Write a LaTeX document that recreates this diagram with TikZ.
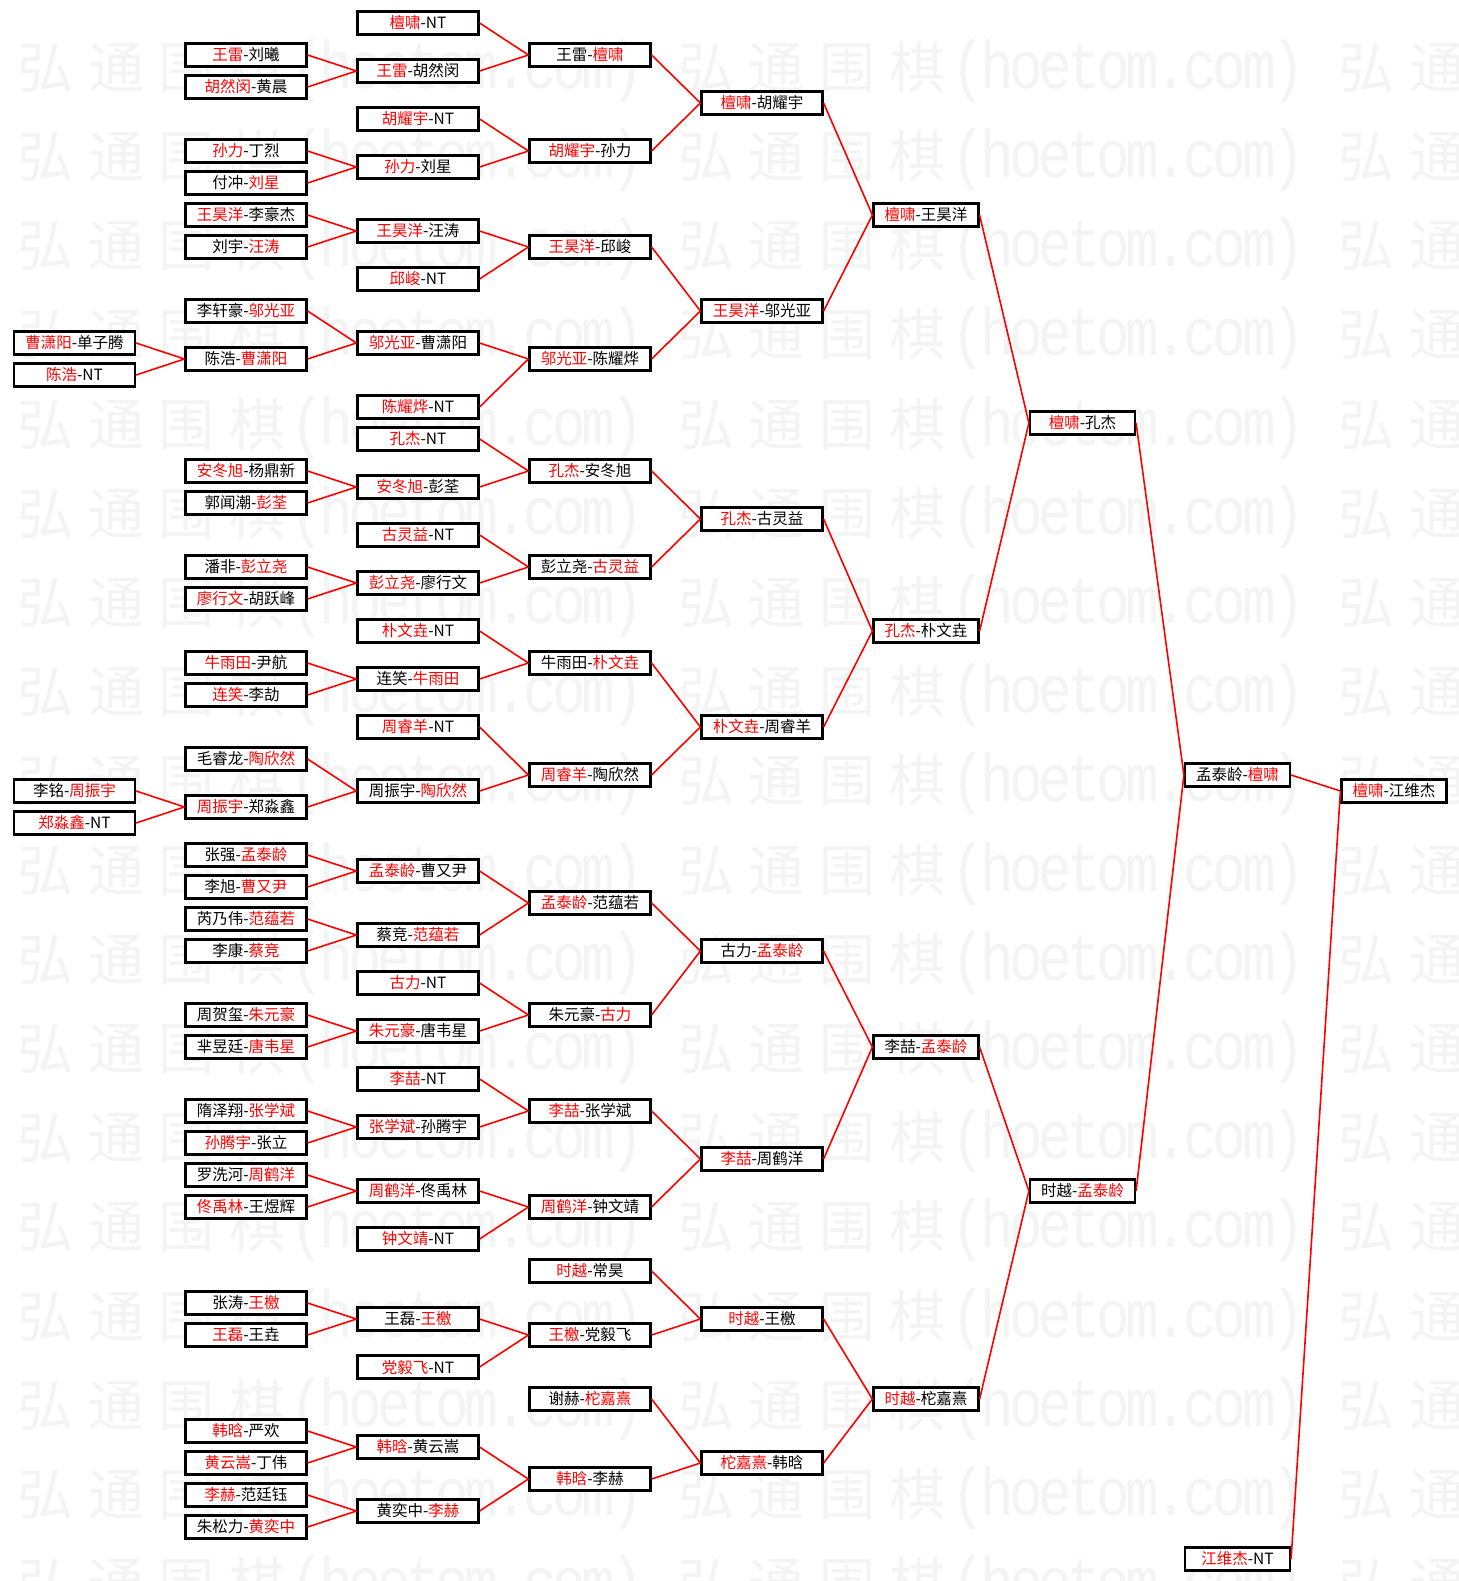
\documentclass[tikz,border=0pt]{standalone}
\usepackage{fontspec}
\usepackage{graphicx}
\newfontfamily\cjk{Noto Sans CJK SC}
\newfontfamily\wmmono{Liberation Mono}
\newcommand\rw[1]{\textcolor{red}{#1}}
\newcommand\Y[1]{-23-16*#1}
\newcommand\wmc[1]{\makebox[70.6pt]{#1}}
\newcommand\wml[1]{\makebox[29.1pt]{\wmmono\scalebox{1}[1.2]{#1}}}
\newcommand\wmrep{\wmc{弘}\wmc{通}\wmc{围}\wmc{棋}\wml{(}\wml{h}\wml{o}\wml{e}\wml{t}\wml{o}\wml{m}\wml{.}\wml{c}\wml{o}\wml{m}\wml{)}\wml{}}
\begin{document}
\begin{tikzpicture}[x=1pt,y=1pt,
  bx/.style={draw=black, line width=2.2pt, fill=white, minimum height=23pt, inner sep=0pt,
    font=\cjk\fontsize{15.5}{17}\selectfont},
  wa/.style={minimum width=121pt},
  wb/.style={minimum width=105pt},
  ln/.style={draw=red, line width=1.6pt},
  wm/.style={anchor=west, inner sep=0pt, text=black!4.5, font=\cjk\fontsize{56}{60}\selectfont}]
\useasboundingbox[fill=white] (0,0) rectangle (1458,-1581);
% watermark
\foreach \k in {0,...,17}{
  \node[wm] (w\k) at (10,{-71-89.2*\k}) {\wmrep\wmrep\wmc{弘}\wmc{通}};
}
% column 0
\node[bx,wa] (a20) at (74.5,{\Y{20}}) {\rw{曹潇阳}-单子腾};
\node[bx,wa] (a22) at (74.5,{\Y{22}}) {\rw{陈浩}-NT};
\node[bx,wa] (a48) at (74.5,{\Y{48}}) {李铭-\rw{周振宇}};
\node[bx,wa] (a50) at (74.5,{\Y{50}}) {\rw{郑淼鑫}-NT};
% column 1
\node[bx,wa] (b2) at (246,{\Y{2}}) {\rw{王雷}-刘曦};
\node[bx,wa] (b4) at (246,{\Y{4}}) {\rw{胡然闵}-黄晨};
\node[bx,wa] (b8) at (246,{\Y{8}}) {\rw{孙力}-丁烈};
\node[bx,wa] (b10) at (246,{\Y{10}}) {付冲-\rw{刘星}};
\node[bx,wa] (b12) at (246,{\Y{12}}) {\rw{王昊洋}-李豪杰};
\node[bx,wa] (b14) at (246,{\Y{14}}) {刘宇-\rw{汪涛}};
\node[bx,wa] (b18) at (246,{\Y{18}}) {李轩豪-\rw{邬光亚}};
\node[bx,wa] (b21) at (246,{\Y{21}}) {陈浩-\rw{曹潇阳}};
\node[bx,wa] (b28) at (246,{\Y{28}}) {\rw{安冬旭}-杨鼎新};
\node[bx,wa] (b30) at (246,{\Y{30}}) {郭闻潮-\rw{彭荃}};
\node[bx,wa] (b34) at (246,{\Y{34}}) {潘非-\rw{彭立尧}};
\node[bx,wa] (b36) at (246,{\Y{36}}) {\rw{廖行文}-胡跃峰};
\node[bx,wa] (b40) at (246,{\Y{40}}) {\rw{牛雨田}-尹航};
\node[bx,wa] (b42) at (246,{\Y{42}}) {\rw{连笑}-李劼};
\node[bx,wa] (b46) at (246,{\Y{46}}) {毛睿龙-\rw{陶欣然}};
\node[bx,wa] (b49) at (246,{\Y{49}}) {\rw{周振宇}-郑淼鑫};
\node[bx,wa] (b52) at (246,{\Y{52}}) {张强-\rw{孟泰龄}};
\node[bx,wa] (b54) at (246,{\Y{54}}) {李旭-\rw{曹又尹}};
\node[bx,wa] (b56) at (246,{\Y{56}}) {芮乃伟-\rw{范蕴若}};
\node[bx,wa] (b58) at (246,{\Y{58}}) {李康-\rw{蔡竞}};
\node[bx,wa] (b62) at (246,{\Y{62}}) {周贺玺-\rw{朱元豪}};
\node[bx,wa] (b64) at (246,{\Y{64}}) {芈昱廷-\rw{唐韦星}};
\node[bx,wa] (b68) at (246,{\Y{68}}) {隋泽翔-\rw{张学斌}};
\node[bx,wa] (b70) at (246,{\Y{70}}) {\rw{孙腾宇}-张立};
\node[bx,wa] (b72) at (246,{\Y{72}}) {罗洗河-\rw{周鹤洋}};
\node[bx,wa] (b74) at (246,{\Y{74}}) {\rw{佟禹林}-王煜辉};
\node[bx,wa] (b80) at (246,{\Y{80}}) {张涛-\rw{王檄}};
\node[bx,wa] (b82) at (246,{\Y{82}}) {\rw{王磊}-王垚};
\node[bx,wa] (b88) at (246,{\Y{88}}) {\rw{韩晗}-严欢};
\node[bx,wa] (b90) at (246,{\Y{90}}) {\rw{黄云嵩}-丁伟};
\node[bx,wa] (b92) at (246,{\Y{92}}) {\rw{李赫}-范廷钰};
\node[bx,wa] (b94) at (246,{\Y{94}}) {朱松力-\rw{黄奕中}};
% column 2
\node[bx,wa] (c0) at (418,{\Y{0}}) {\rw{檀啸}-NT};
\node[bx,wa] (c3) at (418,{\Y{3}}) {\rw{王雷}-胡然闵};
\node[bx,wa] (c6) at (418,{\Y{6}}) {\rw{胡耀宇}-NT};
\node[bx,wa] (c9) at (418,{\Y{9}}) {\rw{孙力}-刘星};
\node[bx,wa] (c13) at (418,{\Y{13}}) {\rw{王昊洋}-汪涛};
\node[bx,wa] (c16) at (418,{\Y{16}}) {\rw{邱峻}-NT};
\node[bx,wa] (c20) at (418,{\Y{20}}) {\rw{邬光亚}-曹潇阳};
\node[bx,wa] (c24) at (418,{\Y{24}}) {\rw{陈耀烨}-NT};
\node[bx,wa] (c26) at (418,{\Y{26}}) {\rw{孔杰}-NT};
\node[bx,wa] (c29) at (418,{\Y{29}}) {\rw{安冬旭}-彭荃};
\node[bx,wa] (c32) at (418,{\Y{32}}) {\rw{古灵益}-NT};
\node[bx,wa] (c35) at (418,{\Y{35}}) {\rw{彭立尧}-廖行文};
\node[bx,wa] (c38) at (418,{\Y{38}}) {\rw{朴文垚}-NT};
\node[bx,wa] (c41) at (418,{\Y{41}}) {连笑-\rw{牛雨田}};
\node[bx,wa] (c44) at (418,{\Y{44}}) {\rw{周睿羊}-NT};
\node[bx,wa] (c48) at (418,{\Y{48}}) {周振宇-\rw{陶欣然}};
\node[bx,wa] (c53) at (418,{\Y{53}}) {\rw{孟泰龄}-曹又尹};
\node[bx,wa] (c57) at (418,{\Y{57}}) {蔡竞-\rw{范蕴若}};
\node[bx,wa] (c60) at (418,{\Y{60}}) {\rw{古力}-NT};
\node[bx,wa] (c63) at (418,{\Y{63}}) {\rw{朱元豪}-唐韦星};
\node[bx,wa] (c66) at (418,{\Y{66}}) {\rw{李喆}-NT};
\node[bx,wa] (c69) at (418,{\Y{69}}) {\rw{张学斌}-孙腾宇};
\node[bx,wa] (c73) at (418,{\Y{73}}) {\rw{周鹤洋}-佟禹林};
\node[bx,wa] (c76) at (418,{\Y{76}}) {\rw{钟文靖}-NT};
\node[bx,wa] (c81) at (418,{\Y{81}}) {王磊-\rw{王檄}};
\node[bx,wa] (c84) at (418,{\Y{84}}) {\rw{党毅飞}-NT};
\node[bx,wa] (c89) at (418,{\Y{89}}) {\rw{韩晗}-黄云嵩};
\node[bx,wa] (c93) at (418,{\Y{93}}) {黄奕中-\rw{李赫}};
% column 3
\node[bx,wa] (d2) at (590,{\Y{2}}) {王雷-\rw{檀啸}};
\node[bx,wa] (d8) at (590,{\Y{8}}) {\rw{胡耀宇}-孙力};
\node[bx,wa] (d14) at (590,{\Y{14}}) {\rw{王昊洋}-邱峻};
\node[bx,wa] (d21) at (590,{\Y{21}}) {\rw{邬光亚}-陈耀烨};
\node[bx,wa] (d28) at (590,{\Y{28}}) {\rw{孔杰}-安冬旭};
\node[bx,wa] (d34) at (590,{\Y{34}}) {彭立尧-\rw{古灵益}};
\node[bx,wa] (d40) at (590,{\Y{40}}) {牛雨田-\rw{朴文垚}};
\node[bx,wa] (d47) at (590,{\Y{47}}) {\rw{周睿羊}-陶欣然};
\node[bx,wa] (d55) at (590,{\Y{55}}) {\rw{孟泰龄}-范蕴若};
\node[bx,wa] (d62) at (590,{\Y{62}}) {朱元豪-\rw{古力}};
\node[bx,wa] (d68) at (590,{\Y{68}}) {\rw{李喆}-张学斌};
\node[bx,wa] (d74) at (590,{\Y{74}}) {\rw{周鹤洋}-钟文靖};
\node[bx,wa] (d78) at (590,{\Y{78}}) {\rw{时越}-常昊};
\node[bx,wa] (d82) at (590,{\Y{82}}) {\rw{王檄}-党毅飞};
\node[bx,wa] (d86) at (590,{\Y{86}}) {谢赫-\rw{柁嘉熹}};
\node[bx,wa] (d91) at (590,{\Y{91}}) {\rw{韩晗}-李赫};
% column 4
\node[bx,wa] (e5) at (762,{\Y{5}}) {\rw{檀啸}-胡耀宇};
\node[bx,wa] (e18) at (762,{\Y{18}}) {\rw{王昊洋}-邬光亚};
\node[bx,wa] (e31) at (762,{\Y{31}}) {\rw{孔杰}-古灵益};
\node[bx,wa] (e44) at (762,{\Y{44}}) {\rw{朴文垚}-周睿羊};
\node[bx,wa] (e58) at (762,{\Y{58}}) {古力-\rw{孟泰龄}};
\node[bx,wa] (e71) at (762,{\Y{71}}) {\rw{李喆}-周鹤洋};
\node[bx,wa] (e81) at (762,{\Y{81}}) {\rw{时越}-王檄};
\node[bx,wa] (e90) at (762,{\Y{90}}) {\rw{柁嘉熹}-韩晗};
% column 5
\node[bx,wb] (f12) at (926,{\Y{12}}) {\rw{檀啸}-王昊洋};
\node[bx,wb] (f38) at (926,{\Y{38}}) {\rw{孔杰}-朴文垚};
\node[bx,wb] (f64) at (926,{\Y{64}}) {李喆-\rw{孟泰龄}};
\node[bx,wb] (f86) at (926,{\Y{86}}) {\rw{时越}-柁嘉熹};
% column 6
\node[bx,wb] (g25) at (1082.5,{\Y{25}}) {\rw{檀啸}-孔杰};
\node[bx,wb] (g73) at (1082.5,{\Y{73}}) {时越-\rw{孟泰龄}};
% column 7
\node[bx,wb] (h47) at (1237.5,{\Y{47}}) {孟泰龄-\rw{檀啸}};
\node[bx,wb] (h96) at (1237.5,{\Y{96}}) {\rw{江维杰}-NT};
% column 8
\node[bx,wb] (k48) at (1394,{\Y{48}}) {\rw{檀啸}-江维杰};
% connectors
\foreach \s/\t in {a20/b21,a22/b21,a48/b49,a50/b49,
  b2/c3,b4/c3,b8/c9,b10/c9,b12/c13,b14/c13,b18/c20,b21/c20,b28/c29,b30/c29,
  b34/c35,b36/c35,b40/c41,b42/c41,b46/c48,b49/c48,b52/c53,b54/c53,b56/c57,b58/c57,
  b62/c63,b64/c63,b68/c69,b70/c69,b72/c73,b74/c73,b80/c81,b82/c81,b88/c89,b90/c89,
  b92/c93,b94/c93,
  c0/d2,c3/d2,c6/d8,c9/d8,c13/d14,c16/d14,c20/d21,c24/d21,c26/d28,c29/d28,
  c32/d34,c35/d34,c38/d40,c41/d40,c44/d47,c48/d47,c53/d55,c57/d55,c60/d62,c63/d62,
  c66/d68,c69/d68,c73/d74,c76/d74,c81/d82,c84/d82,c89/d91,c93/d91,
  d2/e5,d8/e5,d14/e18,d21/e18,d28/e31,d34/e31,d40/e44,d47/e44,d55/e58,d62/e58,
  d68/e71,d74/e71,d78/e81,d82/e81,d86/e90,d91/e90,
  e5/f12,e18/f12,e31/f38,e44/f38,e58/f64,e71/f64,e81/f86,e90/f86,
  f12/g25,f38/g25,f64/g73,f86/g73,
  g25/h47,g73/h47,h47/k48,h96/k48}{
  \draw[ln] (\s.east) -- (\t.west);
}
\end{tikzpicture}
\end{document}
